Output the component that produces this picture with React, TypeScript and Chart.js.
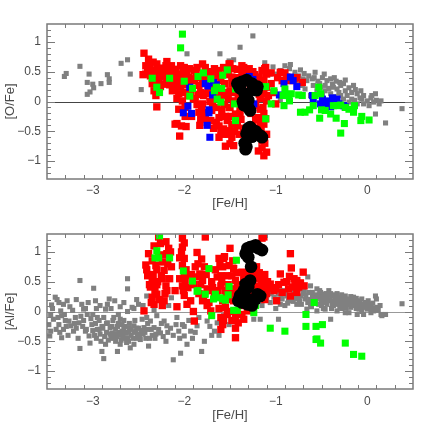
import React, { useEffect, useRef } from "react";
import { Chart, registerables } from "chart.js";
Chart.register(...registerables);

type P = [number, number];

// ---------- axis definitions ----------
const xRange: [number, number] = [-3.5, 0.5];
const yRange: [number, number] = [-1.3, 1.3];
const xTickLabels = [-3, -2, -1, 0];
const yTickLabels = [-1, -0.5, 0, 0.5, 1];
const xMinorStep = 0.2;
const yMinorStep = 0.1;
const xTitle = "[Fe/H]";
const topYTitle = "[O/Fe]";
const botYTitle = "[Al/Fe]";

// ---------- top panel: [O/Fe] vs [Fe/H] ----------
const topGray: P[] = [
  [-3.29,0.47],[-3.31,0.42],[-3.14,0.59],[-3.04,0.46],[-3.06,0.32],[-3.0,0.29],[-2.99,0.23],[-3.03,0.16],
  [-3.06,0.12],[-2.91,0.30],[-2.84,0.45],[-2.82,0.38],[-2.82,0.32],[-2.69,0.64],[-2.62,0.70],[-2.59,0.46],
  [-2.47,0.20],[-1.97,0.80],[-1.61,0.80],[-1.51,0.68],[-1.46,0.70],[-1.39,0.91],[-1.25,1.10],[-1.12,0.65],
  [-1.03,0.58],[-0.95,0.52],[-0.90,0.60],[-0.84,0.62],[-0.85,0.55],[-0.79,0.49],[-0.73,0.53],[-0.75,0.43],
  [-0.69,0.47],[-0.64,0.43],[-0.66,0.35],[-0.60,0.38],[-0.57,0.49],[-0.54,0.34],[-0.49,0.40],[-0.46,0.27],
  [-0.44,0.35],[-0.40,0.38],[-0.38,0.29],[-0.34,0.34],[-0.33,0.21],[-0.29,0.27],[-0.26,0.30],[-0.24,0.18],
  [-0.20,0.23],[-0.17,0.15],[-0.15,0.27],[-0.11,0.13],[-0.07,0.18],[-0.06,0.04],[-0.04,0.10],[0.0,0.01],
  [0.04,0.06],[0.07,-0.01],[0.09,0.13],[0.10,0.02],[0.13,-0.04],[0.15,0.01],[0.09,-0.21],[0.20,-0.36],
  [0.38,-0.12],[-0.91,-0.07],[-0.95,0.02],[-0.55,0.18],[-0.62,0.10],[-0.49,0.10],[-0.40,0.13],[-0.29,0.10],
  [-0.22,0.10],[-0.17,0.04],[-0.11,-0.04],[-0.04,-0.04],[0.02,-0.07],[-0.77,0.32],[-0.71,0.27],[-0.68,0.21],
  [-0.59,0.27],[-0.51,0.24],[-0.46,0.18],[-0.37,0.24],[-0.31,0.15],[-0.26,0.04],[-0.20,-0.01],[-0.88,0.41],
  [-0.82,0.35],[-1.06,0.46],[-0.99,0.46],[-0.52,0.30],[-0.42,0.22],[-0.35,0.08],[-0.30,0.32],[-0.13,0.20],
  [-0.08,0.06],[0.05,0.10],[-0.58,0.40],[-0.70,0.38],[-0.47,0.46],[-0.36,0.40],[-0.24,0.36],[-0.14,0.02]
];
const topRed: P[] = [
  [-2.44,0.81],[-2.39,0.71],[-2.34,0.66],[-2.30,0.63],[-2.19,0.67],[-2.42,0.46],[-2.37,0.43],[-2.33,0.52],
  [-2.28,0.46],[-2.22,0.54],[-2.24,0.41],[-2.19,0.38],[-2.15,0.52],[-2.09,0.54],[-2.04,0.60],[-2.00,0.57],
  [-2.06,0.46],[-2.02,0.41],[-2.08,0.32],[-2.04,0.24],[-2.06,0.13],[-2.00,0.15],[-2.02,0.01],[-2.06,-0.13],
  [-1.99,-0.10],[-2.30,-0.09],[-2.33,0.18],[-2.31,0.10],[-2.08,-0.37],[-2.03,-0.41],[-2.05,-0.58],[-2.22,0.29],
  [-2.13,0.18],[-1.89,0.52],[-1.86,0.57],[-1.80,0.63],[-1.77,0.57],[-1.89,0.35],[-1.84,0.27],[-1.82,0.15],
  [-1.88,0.04],[-1.80,-0.04],[-1.78,-0.18],[-1.82,-0.29],[-1.77,-0.29],[-1.71,-0.32],[-1.62,-0.27],[-1.62,-0.41],
  [-1.57,-0.46],[-1.57,-0.55],[-1.64,-0.10],[-1.68,0.04],[-1.60,0.21],[-1.62,0.52],[-1.57,0.57],[-1.51,0.63],
  [-1.71,0.46],[-1.68,0.41],[-1.95,0.29],[-1.93,0.13],[-1.75,0.13],[-1.51,-0.10],[-1.53,-0.32],[-1.50,-0.71],
  [-1.50,0.63],[-1.42,0.54],[-1.35,0.57],[-1.37,0.46],[-1.48,0.41],[-1.44,0.27],[-1.50,0.18],[-1.46,0.01],
  [-1.50,-0.10],[-1.44,-0.21],[-1.48,-0.38],[-1.50,-0.49],[-1.48,-0.60],[-1.46,-0.74],[-1.42,-0.41],[-1.39,-0.10],
  [-1.33,0.01],[-1.22,-0.07],[-1.19,-0.27],[-1.13,-0.38],[-1.10,-0.55],[-1.15,-0.66],[-1.10,-0.85],[-1.13,-0.91],
  [-1.19,-0.83],[-1.15,0.52],[-1.11,0.57],[-1.10,0.46],[-1.13,0.35],[-1.10,0.24],[-1.13,0.13],[-1.10,0.01],
  [-1.17,-0.13],[-1.28,0.49],[-1.21,0.41],[-0.95,0.49],[-0.88,0.41],[-0.80,0.38],[-0.93,0.35],[-1.02,0.15],
  [-1.00,-0.04],[-1.11,-0.29],[-0.77,0.40],[-0.71,0.32],
  [-2.35,0.30],[-2.28,0.35],[-2.25,0.48],[-2.12,0.42],[-2.10,0.30],[-2.08,0.05],[-1.97,0.48],[-1.95,0.40],
  [-1.92,0.22],[-1.90,0.05],[-1.86,-0.05],[-1.84,-0.18],[-1.80,0.30],[-1.78,0.45],[-1.74,0.20],[-1.72,0.00],
  [-1.70,-0.15],[-1.66,0.28],[-1.64,0.50],[-1.60,0.35],[-1.58,0.10],[-1.56,-0.05],[-1.55,-0.25],[-1.54,0.45],
  [-1.48,0.30],[-1.46,0.15],[-1.44,-0.02],[-1.40,0.38],[-1.38,-0.30],[-1.36,0.20],[-1.30,0.45],[-1.27,-0.20],
  [-1.25,0.50],[-1.20,0.30],[-1.18,0.12],[-1.16,-0.45],[-1.14,-0.10],[-1.12,-0.70],[-1.20,-0.55],[-1.25,-0.40],
  [-1.62,-0.60],[-1.55,-0.75],[-1.68,-0.45],[-1.75,-0.35],[-1.92,-0.25],[-1.98,-0.42],[-2.20,0.60],[-2.40,0.55],
  [-1.68,0.20],[-1.52,0.05],[-1.40,-0.55],[-1.35,-0.45],[-1.17,0.05],[-1.23,0.20],[-1.05,0.30],[-0.98,0.40],
  [-2.42,0.60],[-2.36,0.52],[-2.32,0.40],[-2.26,0.56],[-2.18,0.48],[-2.14,0.60],[-2.11,0.22],[-2.05,0.35],
  [-2.01,0.50],[-1.98,0.28],[-1.96,0.10],[-1.94,0.55],[-1.91,0.38],[-1.87,0.48],[-1.85,0.12],[-1.83,0.40],
  [-1.81,-0.10],[-1.79,0.10],[-1.76,0.38],[-1.73,0.50],[-1.71,0.25],[-1.69,-0.05],[-1.67,0.55],[-1.63,0.15],
  [-1.61,0.42],[-1.59,-0.15],[-1.56,0.30],[-1.53,0.15],[-1.52,0.50],[-1.49,-0.25],[-1.47,0.55],[-1.45,-0.50],
  [-1.43,0.40],[-1.41,0.10],[-1.39,-0.20],[-1.37,0.60],[-1.33,0.50],[-1.29,0.55],[-1.23,0.45],[-1.18,0.40],
  [-1.15,0.20],[-1.13,-0.20],[-1.12,0.55],[-1.17,-0.35],[-1.15,-0.78],[-1.22,-0.30],[-1.05,0.48],[-0.90,0.48],
  [-0.85,0.35],[-1.08,0.10],[-2.45,0.45],[-2.38,0.62],[-2.26,0.25],[-2.16,0.28],[-1.99,-0.25],[-2.10,-0.38],
  [-1.83,-0.40],[-1.65,-0.35],[-1.60,-0.50],[-1.52,-0.55]
];
const topGreen: P[] = [
  [-2.02,1.13],[-2.04,0.90],[-2.35,0.39],[-2.30,0.24],[-2.27,0.15],[-2.16,0.39],[-2.00,0.34],[-1.94,0.09],
  [-1.91,0.22],[-1.85,0.42],[-1.79,0.48],[-1.71,0.38],[-1.67,0.18],[-1.65,0.24],[-1.64,0.04],[-1.60,-0.01],
  [-1.59,0.22],[-1.58,0.44],[-1.53,0.53],[-1.44,0.21],[-1.45,-0.04],[-1.44,-0.32],[-1.11,0.25],[-1.05,-0.04],
  [-1.11,-0.29],[-1.02,0.18],[-0.91,-0.07],[-0.92,0.10],[-0.90,0.21],[-0.86,0.10],[-0.85,0.01],[-0.83,0.13],
  [-0.75,0.11],[-0.71,0.10],[-0.73,-0.18],[-0.68,-0.18],[-0.63,-0.14],[-0.53,0.24],[-0.51,0.13],[-0.57,0.10],
  [-0.59,-0.07],[-0.50,-0.14],[-0.52,-0.28],[-0.37,-0.07],[-0.33,-0.07],[-0.29,-0.06],[-0.34,-0.28],[-0.25,-0.37],
  [-0.29,-0.53],[-0.24,-0.10],[-0.20,-0.13],[-0.14,-0.07],[-0.15,-0.18],[-0.06,-0.25],[-0.07,-0.32],[0.02,-0.31],
  [-0.40,-0.21],[-0.46,-0.15]
];
const topBlue: P[] = [
  [-1.94,0.24],[-1.96,-0.08],[-2.01,-0.19],[-1.92,-0.20],[-1.77,0.30],[-1.74,0.26],[-1.68,0.32],[-1.65,0.28],
  [-1.69,0.11],[-1.73,-0.14],[-1.73,-0.19],[-1.75,-0.40],[-1.72,-0.60],[-1.29,0.42],[-1.24,-0.04],[-1.25,0.37],
  [-0.91,0.30],[-0.84,0.41],[-0.81,0.35],[-0.77,0.25],[-0.96,0.11],[-0.60,0.10],[-0.59,0.04],[-0.51,-0.04],
  [-0.47,0.00],[-0.44,-0.04],[-0.42,0.01],[-0.40,-0.09],[-0.37,0.00],[-0.33,0.04],[-0.31,-0.04],[-0.26,-0.07],
  [-0.46,-0.10],[-0.49,0.04],[-0.38,0.06],[-0.24,-0.09]
];
const topBlack: P[] = [
  [-1.37,0.33],[-1.32,0.36],[-1.26,0.30],[-1.21,0.19],[-1.39,0.22],[-1.34,0.13],[-1.30,0.02],[-1.35,-0.06],
  [-1.28,-0.15],[-1.32,0.08],[-1.42,0.30],[-1.40,0.25],[-1.20,0.25],[-1.25,0.20],[-1.36,0.00],[-1.30,-0.10],
  [-1.28,-0.43],[-1.25,-0.48],[-1.21,-0.54],[-1.17,-0.57],[-1.26,-0.59],[-1.32,-0.54],[-1.32,-0.76],[-1.34,-0.70],
  [-1.33,-0.80],[-1.22,-0.50],[-1.15,-0.60],[-1.30,-0.45]
];

// ---------- bottom panel: [Al/Fe] vs [Fe/H] ----------
const botGray: P[] = [
  [-3.41,0.24],[-3.37,0.15],[-3.45,0.11],[-3.46,-0.05],[-3.43,-0.13],[-3.48,-0.22],[-3.46,-0.33],[-3.47,-0.41],
  [-3.35,0.01],[-3.34,-0.07],[-3.37,-0.22],[-3.32,-0.30],[-3.34,-0.44],[-3.28,0.18],[-3.26,-0.16],[-3.24,-0.24],
  [-3.21,-0.33],[-3.19,-0.10],[-3.15,-0.19],[-3.14,0.52],[-3.14,-0.62],[-3.12,0.12],[-3.10,0.04],[-3.08,-0.33],
  [-3.06,-0.05],[-3.04,-0.41],[-3.03,-0.53],[-3.01,-0.22],[-2.99,0.39],[-2.97,0.18],[-2.95,-0.10],[-2.93,-0.30],
  [-2.92,-0.38],[-2.90,-0.67],[-2.88,-0.79],[-2.86,0.04],[-2.84,-0.19],[-2.82,0.21],[-2.81,-0.27],[-2.79,-0.36],
  [-2.77,-0.44],[-2.75,-0.50],[-2.73,-0.67],[-2.72,-0.05],[-2.70,-0.13],[-2.68,-0.22],[-2.66,-0.30],[-2.64,-0.36],
  [-2.62,0.55],[-2.62,0.38],[-2.62,-0.44],[-2.61,-0.50],[-2.59,-0.61],[-2.57,0.07],[-2.55,-0.24],[-2.53,-0.33],
  [-2.51,-0.38],[-2.50,0.12],[-2.48,-0.47],[-2.46,-0.13],[-2.44,-0.27],[-2.41,0.26],[-2.39,-0.58],[-2.37,-0.16],
  [-2.33,-0.27],[-2.31,-0.38],[-2.30,-0.07],[-2.26,-0.36],[-2.22,-0.16],[-2.20,-0.50],[-2.19,-0.24],[-2.17,0.10],
  [-2.14,0.23],[-2.12,-0.81],[-2.09,-0.22],[-2.06,-0.33],[-2.04,-0.70],[-2.02,-0.22],[-2.00,-0.41],[-1.97,-0.55],
  [-1.93,-0.33],[-1.89,0.01],[-1.86,-0.24],[-1.81,-0.67],[-1.78,-0.50],[-1.75,-0.16],[-1.67,-0.33],[-1.64,-0.19],
  [-1.57,-0.07],[-1.51,-0.22],
  [-2.95,-0.30],[-2.90,-0.25],[-2.85,-0.35],[-2.80,-0.45],[-2.75,-0.30],[-2.70,-0.40],[-2.68,-0.33],[-2.65,-0.45],
  [-2.60,-0.28],[-2.58,-0.40],[-2.55,-0.35],[-2.52,-0.45],[-2.50,-0.28],[-2.45,-0.38],[-2.42,-0.45],[-2.40,-0.30],
  [-2.35,-0.40],[-2.72,-0.20],[-2.66,-0.15],[-2.78,-0.15],[-2.88,-0.10],[-3.00,-0.05],[-3.10,-0.15],[-3.20,-0.20],
  [-3.30,-0.15],[-3.40,-0.30],[-2.92,0.10],[-2.80,0.05],[-2.62,0.00],[-2.55,0.05],[-2.45,0.10],[-3.05,0.15],
  [-3.25,0.08],[-2.98,-0.40],[-2.86,-0.55],[-2.70,-0.55],[-2.55,-0.55],[-2.40,-0.20],
  [-3.44,0.05],[-3.38,-0.10],[-3.36,-0.35],[-3.31,-0.05],[-3.29,-0.25],[-3.27,-0.40],[-3.22,0.02],[-3.18,-0.28],
  [-3.16,-0.45],[-3.13,-0.08],[-3.11,-0.25],[-3.07,-0.30],[-3.02,-0.12],[-3.00,-0.32],[-2.97,-0.20],[-2.96,-0.45],
  [-2.93,-0.15],[-2.91,-0.50],[-2.89,-0.28],[-2.87,-0.42],[-2.85,-0.20],[-2.83,-0.48],[-2.81,-0.38],[-2.79,-0.25],
  [-2.77,-0.10],[-2.76,-0.38],[-2.74,-0.42],[-2.73,-0.25],[-2.71,-0.35],[-2.69,-0.48],[-2.67,-0.40],[-2.65,-0.25],
  [-2.63,-0.52],[-2.61,-0.35],[-2.60,-0.20],[-2.58,-0.30],[-2.56,-0.45],[-2.54,-0.15],[-2.52,-0.28],[-2.49,-0.40],
  [-2.47,-0.32],[-2.43,-0.35],[-2.41,-0.10],[-2.38,-0.45],[-2.36,-0.30],[-2.32,-0.45],[-2.28,-0.30],[-2.25,-0.20],
  [-2.23,-0.42],[-2.18,-0.35],[-2.15,-0.28],[-2.12,-0.40],[-2.08,-0.10],[-2.05,-0.45],[-2.00,-0.25],[-1.95,-0.15],
  [-1.91,-0.45],[-1.88,-0.35],[-1.84,-0.10],[-1.72,-0.25],[-1.70,-0.40],[-1.62,-0.40],[-3.39,0.20],[-3.32,0.12],
  [-3.18,0.20],[-3.08,0.05],[-2.96,0.05],[-2.84,0.12],[-2.76,0.18],[-2.70,0.08],[-2.66,0.15],[-2.52,0.20],
  [-2.33,0.02],
  [-1.06,0.15],[-1.02,0.24],[-0.97,0.29],[-0.93,0.21],[-0.95,0.12],[-0.91,0.35],[-0.88,0.26],[-0.86,0.18],
  [-0.80,0.32],[-0.79,0.21],[-0.77,0.12],[-0.73,0.26],[-0.71,0.38],[-0.68,0.21],[-0.65,0.58],[-0.62,0.43],
  [-0.60,0.32],[-0.59,0.18],[-0.57,0.26],[-0.55,0.38],[-0.53,0.12],[-0.51,0.32],[-0.49,0.21],[-0.47,0.29],
  [-0.46,0.15],[-0.44,0.24],[-0.42,0.35],[-0.40,0.18],[-0.38,0.26],[-0.37,0.10],[-0.35,0.21],[-0.33,0.30],
  [-0.31,0.15],[-0.29,0.24],[-0.27,0.10],[-0.26,0.18],[-0.24,0.26],[-0.22,0.12],[-0.20,0.21],[-0.18,0.07],
  [-0.17,0.15],[-0.15,0.24],[-0.13,0.10],[-0.11,0.18],[-0.09,0.04],[-0.07,0.12],[-0.06,0.21],[-0.04,0.07],
  [-0.02,0.15],[0.00,0.04],[0.04,0.10],[0.07,0.01],[0.09,0.26],[0.10,0.21],[0.11,0.07],[0.15,-0.05],
  [0.16,-0.07],[0.20,-0.05],[0.38,0.13],[-0.40,-0.13],[-0.97,-0.13],[-1.17,-0.13],[-1.24,-0.13],[-0.24,-0.02],
  [-0.11,-0.05],[-0.04,-0.05],[-0.62,0.12],[-0.66,0.04],[-0.55,0.01],[-0.46,0.04],[-0.33,0.01],[-0.20,-0.02],
  [0.04,-0.02],[-0.55,0.28],[-0.50,0.25],[-0.45,0.20],[-0.40,0.30],[-0.35,0.16],[-0.30,0.20],[-0.25,0.14],
  [-0.20,0.18],[-0.15,0.10],[-0.10,0.14],[-0.05,0.08],[-0.70,0.30],[-0.75,0.25],[-0.85,0.20],[-0.65,0.15],
  [-0.60,0.25],[-0.50,0.10],[-0.45,0.30],[-0.38,0.12],[-0.28,0.05],[-0.18,0.25],[-0.12,0.05],[0.02,0.12],
  [0.05,0.02],[-0.95,0.35],[-1.05,0.30],[-0.90,0.10],[-1.00,0.05],
  [-0.98,0.20],[-0.94,0.28],[-0.89,0.30],[-0.87,0.14],[-0.83,0.24],[-0.81,0.17],[-0.78,0.28],[-0.76,0.38],
  [-0.74,0.18],[-0.72,0.12],[-0.69,0.34],[-0.67,0.27],[-0.64,0.32],[-0.63,0.20],[-0.61,0.08],[-0.58,0.22],
  [-0.56,0.14],[-0.54,0.22],[-0.52,0.35],[-0.50,0.18],[-0.48,0.05],[-0.47,0.24],[-0.44,0.12],[-0.43,0.28],
  [-0.41,0.20],[-0.39,0.05],[-0.36,0.28],[-0.34,0.12],[-0.32,0.22],[-0.30,0.08],[-0.28,0.28],[-0.27,0.18],
  [-0.25,0.22],[-0.23,0.06],[-0.21,0.16],[-0.19,0.12],[-0.16,0.20],[-0.14,0.14],[-0.12,0.22],[-0.10,0.08],
  [-0.08,0.17],[-0.06,0.00],[-0.03,0.12],[-0.01,0.08],[0.01,0.18],[0.03,0.05],[0.06,0.14],[0.08,0.06],
  [0.12,0.02],[0.14,0.10],[-1.10,0.22],[-1.15,0.10],[-1.08,0.35],[-1.25,0.05]
];
const botRed: P[] = [
  [-2.44,0.01],[-2.42,0.78],[-2.39,0.97],[-2.37,0.41],[-2.35,0.52],[-2.35,0.24],[-2.33,0.12],[-2.31,0.77],
  [-2.30,0.70],[-2.30,0.29],[-2.28,1.25],[-2.26,1.14],[-2.24,0.83],[-2.24,0.55],[-2.22,0.69],[-2.20,0.43],
  [-2.20,1.17],[-2.19,0.97],[-2.17,1.06],[-2.15,1.00],[-2.14,0.75],[-2.19,0.35],[-2.22,0.18],[-2.24,0.10],
  [-2.02,1.23],[-2.02,1.08],[-2.00,0.89],[-2.02,0.77],[-2.00,0.63],[-1.99,0.52],[-2.02,0.43],[-2.00,0.27],
  [-1.97,0.12],[-2.08,0.08],[-1.93,0.18],[-1.89,-0.16],[-1.86,0.99],[-1.88,0.75],[-1.83,0.63],[-1.80,0.52],
  [-1.78,0.75],[-1.77,1.25],[-1.75,0.38],[-1.78,0.29],[-1.80,0.18],[-1.75,0.10],[-1.71,0.01],[-1.67,0.29],
  [-1.64,0.58],[-1.62,0.89],[-1.58,0.75],[-1.57,0.89],[-1.60,0.43],[-1.58,0.18],[-1.60,-0.10],[-1.58,-0.22],
  [-1.60,-0.30],[-1.53,0.60],[-1.51,0.77],[-1.53,-0.05],[-1.55,0.07],
  [-1.50,1.06],[-1.46,0.72],[-1.48,0.60],[-1.44,0.52],[-1.42,0.41],[-1.46,0.18],[-1.44,0.01],[-1.44,-0.10],
  [-1.44,-0.28],[-1.44,-0.44],[-1.35,-0.13],[-1.37,0.66],[-1.31,0.58],[-1.26,0.69],[-1.21,0.75],[-1.17,0.60],
  [-1.13,0.52],[-1.15,1.23],[-1.13,1.25],[-1.10,0.41],[-1.06,0.46],[-1.02,0.35],[-0.99,0.18],[-0.95,0.63],
  [-0.91,0.49],[-0.84,0.97],[-0.83,0.73],[-0.85,0.59],[-0.80,0.55],[-0.79,0.46],[-0.82,0.41],[-0.77,0.52],
  [-0.75,0.41],[-0.70,0.66],[-0.69,0.43],[-0.77,0.32],[-0.84,0.26],[-1.19,0.29],[-1.28,0.24],[-1.24,0.12],
  [-1.31,0.01],[-1.37,-0.05],[-1.41,-0.19],[-0.93,0.32],[-1.00,0.38],
  [-1.55,0.35],[-1.52,0.20],[-1.50,0.00],[-1.48,-0.15],[-1.45,0.30],[-1.40,0.45],[-1.38,0.10],[-1.35,0.55],
  [-1.30,0.65],[-1.25,0.45],[-1.20,0.55],[-1.18,0.65],[-1.15,0.35],[-1.12,0.20],[-1.10,0.30],[-1.08,0.40],
  [-1.60,0.60],[-1.65,0.25],[-1.70,0.50],[-1.72,0.35],[-1.90,0.45],[-1.95,0.60],[-2.05,0.55],[-2.10,0.35],
  [-2.30,0.45],[-2.35,0.85],[-2.28,0.90],[-2.25,0.60],[-2.40,0.60],[-2.32,0.35],[-1.85,0.80],[-1.82,0.45],
  [-1.62,0.05],[-1.57,-0.15],[-1.90,0.00],[-2.05,0.90],[-2.00,1.15],
  [-2.41,0.70],[-2.38,0.45],[-2.36,0.15],[-2.34,0.62],[-2.33,1.10],[-2.29,0.50],[-2.27,0.20],[-2.23,0.95],
  [-2.21,0.30],[-2.18,0.80],[-2.16,0.55],[-2.03,1.00],[-2.01,0.35],[-1.98,0.70],[-1.96,0.40],[-1.92,0.62],
  [-1.87,0.58],[-1.84,0.30],[-1.81,0.88],[-1.79,0.20],[-1.76,0.62],[-1.73,0.15],[-1.69,0.40],[-1.66,0.70],
  [-1.63,0.35],[-1.61,0.80],[-1.59,0.50],[-1.56,0.92],[-1.54,0.30],[-1.52,0.45],[-1.49,0.38],[-1.47,0.85],
  [-1.43,0.65],[-1.42,-0.05],[-1.39,0.35],[-1.34,0.60],[-1.23,0.62],[-1.16,0.45],[-1.14,0.28],[-1.09,0.50],
  [-1.04,0.40],[-0.97,0.45],[-0.88,0.50],[-0.86,0.38],[-0.73,0.48],[-1.20,0.42],[-1.27,0.35],[-1.12,0.62]
];
const botGreen: P[] = [
  [-2.27,1.27],[-2.30,1.02],[-2.32,0.90],[-2.28,0.90],[-2.16,0.90],[-2.01,0.68],[-1.91,0.51],[-1.86,0.34],
  [-1.77,0.29],[-1.73,0.72],[-1.70,-0.07],[-1.68,0.21],[-1.66,0.29],[-1.61,0.23],[-1.58,0.21],[-1.55,0.19],
  [-1.51,0.42],[-1.43,0.86],[-1.46,0.02],[-1.42,0.02],[-1.24,-0.02],[-1.22,0.10],[-1.06,-0.28],[-0.90,-0.33],
  [-0.58,0.15],[-0.67,-0.05],[-0.67,-0.25],[-0.56,-0.25],[-0.49,-0.22],[-0.56,-0.47],[-0.55,-0.46],[-0.51,-0.53],
  [-0.24,-0.53],[-0.15,-0.72],[-0.06,-0.75],[-1.52,0.28],[-1.85,0.35]
];
const botBlack: P[] = [
  [-1.31,1.06],[-1.28,1.08],[-1.22,1.11],[-1.19,1.06],[-1.15,1.03],[-1.33,0.97],[-1.30,0.91],[-1.25,1.09],
  [-1.27,0.75],
  [-1.33,0.46],[-1.35,0.35],[-1.39,0.27],[-1.37,0.15],[-1.31,0.12],[-1.26,0.10],[-1.22,0.21],[-1.20,0.29],
  [-1.17,0.26],[-1.28,0.52],[-1.30,0.41],[-1.41,0.18],[-1.33,0.24],[-1.30,0.20],[-1.36,0.22]
];

// ---------- colours ----------
const cGray = "#808080";
const cRed = "#ff0000";
const cGreen = "#00ff00";
const cBlue = "#0000ff";
const cBlack = "#000000";

const toPts = (a: P[]) => a.map(([x, y]) => ({ x, y }));

function makeFramePlugin(zeroColor: string) {
  return {
    id: "frameTicks",
    beforeDatasetsDraw(chart: any) {
      const { ctx, chartArea } = chart;
      const ys = chart.scales.y;
      const y0 = Math.round(ys.getPixelForValue(0)) + 0.5;
      ctx.save();
      ctx.strokeStyle = zeroColor;
      ctx.lineWidth = 1;
      ctx.beginPath();
      ctx.moveTo(chartArea.left, y0);
      ctx.lineTo(chartArea.right, y0);
      ctx.stroke();
      ctx.restore();
    },
    afterDraw(chart: any) {
      const { ctx, chartArea } = chart;
      const xs = chart.scales.x;
      const ys = chart.scales.y;
      const { left, right, top, bottom } = chartArea;
      ctx.save();
      ctx.strokeStyle = "#7a7a7a";
      ctx.lineWidth = 1.5;
      ctx.strokeRect(left, top, right - left, bottom - top);
      ctx.lineWidth = 1;
      ctx.beginPath();
      const nx = Math.round((xRange[1] - xRange[0]) / xMinorStep);
      for (let i = 1; i < nx; i++) {
        const v = xRange[0] + i * xMinorStep;
        const major = Math.abs(v - Math.round(v)) < 1e-6;
        const len = major ? 8 : 4;
        const px = Math.round(xs.getPixelForValue(v)) + 0.5;
        ctx.moveTo(px, bottom);
        ctx.lineTo(px, bottom - len);
        ctx.moveTo(px, top);
        ctx.lineTo(px, top + len);
      }
      const ny = Math.round((yRange[1] - yRange[0]) / yMinorStep);
      for (let i = 1; i < ny; i++) {
        const v = yRange[0] + i * yMinorStep;
        const major = Math.abs(v * 2 - Math.round(v * 2)) < 1e-6;
        const len = major ? 8 : 4;
        const py = Math.round(ys.getPixelForValue(v)) + 0.5;
        ctx.moveTo(left, py);
        ctx.lineTo(left + len, py);
        ctx.moveTo(right, py);
        ctx.lineTo(right - len, py);
      }
      ctx.stroke();
      ctx.restore();
    },
  };
}

const fmt = (v: number) => (v < 0 ? "\u2212" + String(Math.abs(v)) : String(v));
const font = { family: "'Liberation Sans', Arial, sans-serif", size: 12 };
const textColor = "#4a4a4a";

function makeConfig(
  sets: { data: P[]; color: string; r: number; style: string }[],
  yTitle: string,
  topPad: number,
  xAxisH: number,
  bottomPad: number,
  zeroColor: string,
  xTickPad: number
): any {
  return {
    type: "scatter",
    data: {
      datasets: sets.map((s) => ({
        data: toPts(s.data),
        backgroundColor: s.color,
        borderWidth: 0,
        pointRadius: s.r,
        pointHoverRadius: s.r,
        pointStyle: s.style,
      })),
    },
    options: {
      animation: false,
      responsive: false,
      events: [],
      layout: { padding: { left: 0, right: 23, top: topPad, bottom: bottomPad } },
      plugins: { legend: { display: false }, tooltip: { enabled: false } },
      scales: {
        x: {
          type: "linear",
          min: xRange[0],
          max: xRange[1],
          grid: { display: false, drawTicks: false, tickLength: 0 },
          border: { display: false },
          afterBuildTicks: (s: any) => {
            s.ticks = xTickLabels.map((v) => ({ value: v }));
          },
          afterFit: (s: any) => {
            s.height = xAxisH;
          },
          ticks: { color: textColor, font, padding: xTickPad, callback: (v: number) => fmt(v), maxRotation: 0 },
          title: { display: true, text: xTitle, color: textColor, font: { ...font, size: 13 }, padding: { top: 1, bottom: 0 } },
        },
        y: {
          type: "linear",
          min: yRange[0],
          max: yRange[1],
          grid: { display: false, drawTicks: false, tickLength: 0 },
          border: { display: false },
          afterBuildTicks: (s: any) => {
            s.ticks = yTickLabels.map((v) => ({ value: v }));
          },
          afterFit: (s: any) => {
            s.width = 47;
          },
          ticks: { color: textColor, font, padding: 6, callback: (v: number) => fmt(v) },
          title: { display: true, text: yTitle, color: textColor, font: { ...font, size: 13 }, padding: { top: 3, bottom: 4 } },
        },
      },
    },
    plugins: [makeFramePlugin(zeroColor)],
  };
}

export default function App() {
  const topRef = useRef<HTMLCanvasElement>(null);
  const botRef = useRef<HTMLCanvasElement>(null);
  useEffect(() => {
    const top = new Chart(
      topRef.current as HTMLCanvasElement,
      makeConfig(
        [
          { data: topBlack, color: cBlack, r: 6.3, style: "circle" },
          { data: topGreen, color: cGreen, r: 5, style: "rect" },
          { data: topBlue, color: cBlue, r: 5, style: "rect" },
          { data: topRed, color: cRed, r: 5.2, style: "rect" },
          { data: topGray, color: cGray, r: 3.6, style: "rect" },
        ],
        topYTitle,
        24,
        32,
        7,
        "#444",
        4
      )
    );
    const bot = new Chart(
      botRef.current as HTMLCanvasElement,
      makeConfig(
        [
          { data: botBlack, color: cBlack, r: 6.3, style: "circle" },
          { data: botGreen, color: cGreen, r: 5, style: "rect" },
          { data: botRed, color: cRed, r: 5.2, style: "rect" },
          { data: botGray, color: cGray, r: 3.6, style: "rect" },
        ],
        botYTitle,
        16,
        34,
        13,
        "#999",
        5
      )
    );
    return () => {
      top.destroy();
      bot.destroy();
    };
  }, []);
  return (
    <div style={{ position: "fixed", left: 0, top: 0, width: 436, height: 436, background: "#fff" }}>
      <canvas ref={topRef} width={436} height={218} style={{ position: "absolute", left: 0, top: 0, width: 436, height: 218 }} />
      <canvas ref={botRef} width={436} height={218} style={{ position: "absolute", left: 0, top: 218, width: 436, height: 218 }} />
    </div>
  );
}
